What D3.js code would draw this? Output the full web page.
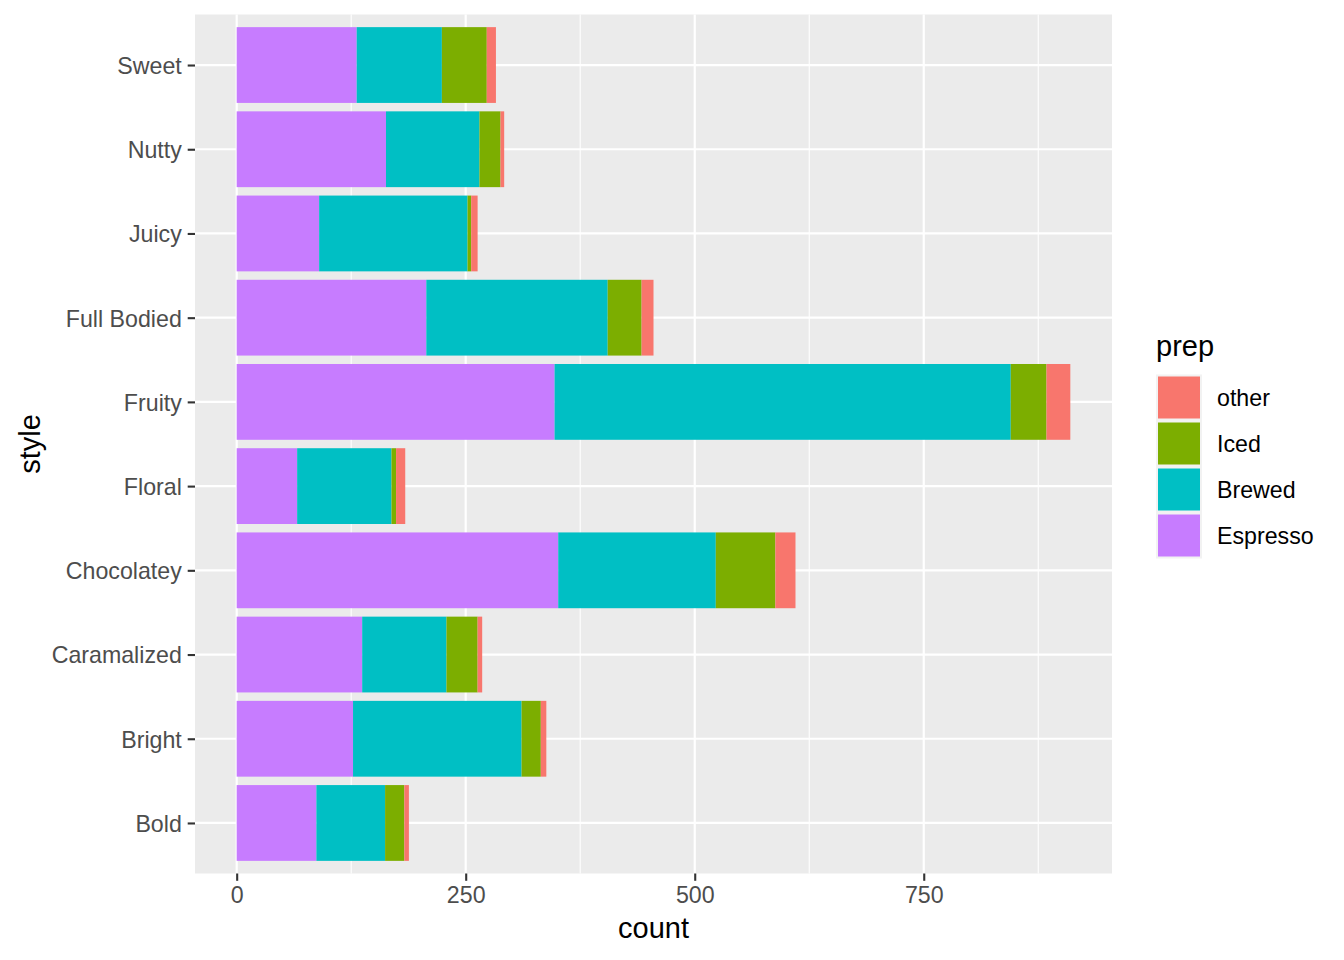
<!DOCTYPE html>
<html>
<head>
<meta charset="utf-8">
<script src="https://cdn.jsdelivr.net/npm/d3@7"></script>
<style>
  html, body { margin: 0; padding: 0; background: #fff; }
  svg text { font-family: "Liberation Sans", Arial, Helvetica, sans-serif; }
</style>
</head>
<body>
<svg id="chart" width="1344" height="960"></svg>
<script>
// Categories, bottom to top as in the chart
const styles = ["Bold", "Bright", "Caramalized", "Chocolatey", "Floral", "Fruity", "Full Bodied", "Juicy", "Nutty", "Sweet"];
// Stacking order from the axis outward
const preps = ["Espresso", "Brewed", "Iced", "other"];
// Legend order
const legendOrder = ["other", "Iced", "Brewed", "Espresso"];
const prepColors = ["#C77CFF", "#00BFC4", "#7CAE00", "#F8766D"];

const espresso = [87, 127, 137, 351, 66, 347, 207, 90, 163, 131];
const brewed   = [75, 184, 92, 172, 103, 498, 198, 162, 102, 93];
const iced     = [21, 21, 34, 65, 5, 39, 37, 4, 23, 49];
const other    = [5, 6, 5, 22, 10, 26, 13, 7, 4, 10];

const xTicks = [0, 250, 500, 750];
const xMinorTicks = [125, 375, 625, 875];

const rows = styles.map((s, i) => ({
  style: s, Espresso: espresso[i], Brewed: brewed[i], Iced: iced[i], other: other[i]
}));

const svg = d3.select("#chart");
const panel = { left: 195, right: 1112, top: 14.5, bottom: 873.5 };

const stack = d3.stack().keys(preps);
const series = stack(rows);
const maxTotal = d3.max(rows, d => d.Espresso + d.Brewed + d.Iced + d.other);
const pad = maxTotal * 0.05;

const x = d3.scaleLinear().domain([-pad, maxTotal + pad]).range([panel.left, panel.right]);
const y = d3.scalePoint().domain(styles.slice().reverse()).range([panel.top, panel.bottom]).padding(0.6);
const barH = y.step() * 0.9;
const color = d3.scaleOrdinal().domain(preps).range(prepColors);

// Panel background
svg.append("rect")
  .attr("x", panel.left).attr("y", panel.top)
  .attr("width", panel.right - panel.left).attr("height", panel.bottom - panel.top)
  .attr("fill", "#EBEBEB");

// Minor grid
svg.append("g").selectAll("line").data(xMinorTicks).join("line")
  .attr("x1", d => x(d)).attr("x2", d => x(d))
  .attr("y1", panel.top).attr("y2", panel.bottom)
  .attr("stroke", "#fff").attr("stroke-width", 1.1);

// Major grid
svg.append("g").selectAll("line").data(xTicks).join("line")
  .attr("x1", d => x(d)).attr("x2", d => x(d))
  .attr("y1", panel.top).attr("y2", panel.bottom)
  .attr("stroke", "#fff").attr("stroke-width", 2.2);
svg.append("g").selectAll("line").data(styles).join("line")
  .attr("x1", panel.left).attr("x2", panel.right)
  .attr("y1", d => y(d)).attr("y2", d => y(d))
  .attr("stroke", "#fff").attr("stroke-width", 2.2);

// Bars
svg.append("g").selectAll("g").data(series).join("g")
  .attr("fill", d => color(d.key))
  .selectAll("rect").data(d => d).join("rect")
  .attr("x", d => x(d[0]))
  .attr("width", d => x(d[1]) - x(d[0]))
  .attr("y", d => y(d.data.style) - barH / 2)
  .attr("height", barH);

// Axes
const tickLen = 7.3, tickPad = 5.9;
const xAxis = svg.append("g")
  .attr("transform", `translate(0,${panel.bottom})`)
  .call(d3.axisBottom(x).tickValues(xTicks).tickSize(tickLen).tickPadding(tickPad).tickFormat(d3.format("d")));
const yAxis = svg.append("g")
  .attr("transform", `translate(${panel.left},0)`)
  .call(d3.axisLeft(y).tickSize(tickLen).tickPadding(tickPad));
[xAxis, yAxis].forEach(a => {
  a.select(".domain").remove();
  a.selectAll(".tick line").attr("stroke", "#333333").attr("stroke-width", 2.1);
  a.selectAll(".tick text").attr("fill", "#4D4D4D").attr("font-size", 23.2)
    .style("font-family", "'Liberation Sans', Arial, sans-serif");
});
yAxis.selectAll(".tick text").attr("dy", "0.36em");

// Axis titles
svg.append("text")
  .attr("x", (panel.left + panel.right) / 2).attr("y", 928).attr("dy", "0.35em")
  .attr("text-anchor", "middle").attr("font-size", 29).attr("fill", "#000")
  .text("count");
svg.append("text")
  .attr("transform", `translate(30,${(panel.top + panel.bottom) / 2}) rotate(-90)`)
  .attr("dy", "0.35em")
  .attr("text-anchor", "middle").attr("font-size", 29).attr("fill", "#000")
  .text("style");

// Legend
const lg = svg.append("g");
lg.append("text").attr("x", 1156).attr("y", 356)
  .attr("font-size", 29).attr("fill", "#000").text("prep");
const keyX = 1156, keyY0 = 374.5, keyStep = 46;
lg.append("rect").attr("x", keyX).attr("y", keyY0)
  .attr("width", 46).attr("height", keyStep * legendOrder.length)
  .attr("fill", "#F2F2F2");
legendOrder.forEach((k, i) => {
  lg.append("rect")
    .attr("x", keyX + 2).attr("y", keyY0 + i * keyStep + 2)
    .attr("width", 42).attr("height", 42)
    .attr("fill", color(k));
  lg.append("text")
    .attr("x", 1217).attr("y", keyY0 + i * keyStep + keyStep / 2).attr("dy", "0.35em")
    .attr("font-size", 23.2).attr("fill", "#000").text(k);
});
</script>
</body>
</html>
